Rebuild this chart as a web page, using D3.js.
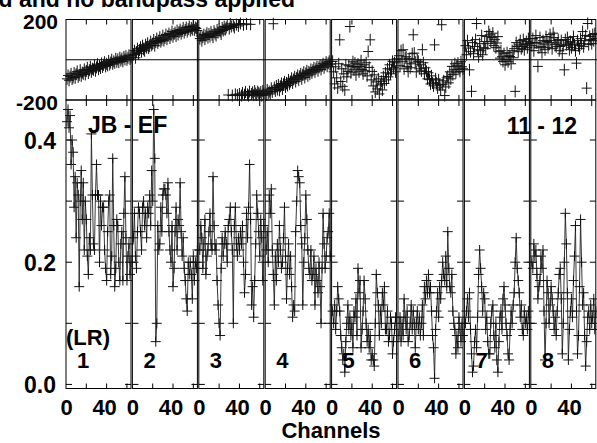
<!DOCTYPE html>
<html><head><meta charset="utf-8">
<script src="https://cdn.jsdelivr.net/npm/d3@7/dist/d3.min.js"></script>
<style>
body{margin:0;background:#fff}
svg{display:block}
text{font-family:"Liberation Sans",Arial,Helvetica,sans-serif;font-weight:bold;fill:#000}
</style>
</head><body>
<svg id="c" width="597" height="443"></svg>
<script>
// ---------------- data ----------------
const titleText = "d and no bandpass applied";
const baselineLabel = "JB - EF";
const sourceLabel = "11 - 12";
const polLabel = "(LR)";
const xAxisTitle = "Channels";
const ifLabels = ["1","2","3","4","5","6","7","8"];
const channels = d3.range(1, 65);
const xTickValues = [0, 40];
const xTickLabels = ["0", "40"];
const xMinorTicks = [20, 40, 60];
const ampTickValues = [0, 0.1, 0.2, 0.3, 0.4];
const ampTickLabelValues = [0, 0.2, 0.4];
const ampTickLabels = ["0.0", "0.2", "0.4"];
const phaseTickValues = [200, -200];
const phaseTickLabels = ["200", "-200"];

const amp1 = [0.43,0.45,0.42,0.44,0.36,0.40,0.38,0.29,0.34,0.24,0.33,0.31,0.16,0.30,0.35,0.27,0.33,0.22,0.30,0.27,0.21,0.18,0.24,0.22,0.41,0.31,0.23,0.22,0.31,0.36,0.31,0.31,0.20,0.30,0.26,0.29,0.29,0.22,0.19,0.17,0.25,0.30,0.31,0.18,0.21,0.37,0.26,0.16,0.19,0.27,0.26,0.20,0.17,0.23,0.25,0.17,0.28,0.34,0.24,0.17,0.21,0.23,0.18,0.20];
const amp2 = [0.24,0.28,0.21,0.19,0.25,0.29,0.28,0.25,0.22,0.29,0.30,0.26,0.28,0.24,0.29,0.28,0.31,0.26,0.35,0.30,0.45,0.37,0.07,0.10,0.26,0.22,0.23,0.29,0.25,0.31,0.32,0.32,0.31,0.28,0.33,0.25,0.22,0.20,0.26,0.16,0.19,0.25,0.29,0.22,0.27,0.26,0.33,0.25,0.21,0.24,0.19,0.17,0.14,0.12,0.20,0.18,0.20,0.18,0.14,0.21,0.17,0.20,0.19,0.22];
const amp3 = [0.22,0.26,0.24,0.19,0.23,0.27,0.18,0.21,0.22,0.25,0.28,0.23,0.22,0.34,0.26,0.22,0.23,0.17,0.13,0.10,0.08,0.19,0.24,0.21,0.23,0.25,0.23,0.20,0.26,0.27,0.29,0.25,0.22,0.10,0.26,0.29,0.23,0.21,0.24,0.22,0.25,0.23,0.26,0.20,0.15,0.18,0.28,0.24,0.29,0.36,0.27,0.13,0.16,0.11,0.17,0.23,0.31,0.28,0.25,0.21,0.27,0.24,0.17,0.26];
const amp4 = [0.22,0.25,0.20,0.31,0.28,0.32,0.22,0.18,0.13,0.21,0.17,0.23,0.20,0.26,0.22,0.19,0.20,0.24,0.29,0.21,0.14,0.19,0.23,0.18,0.21,0.16,0.11,0.13,0.12,0.25,0.30,0.35,0.34,0.33,0.26,0.23,0.13,0.20,0.24,0.31,0.27,0.22,0.19,0.18,0.22,0.17,0.18,0.21,0.13,0.19,0.17,0.15,0.20,0.16,0.10,0.19,0.28,0.23,0.19,0.21,0.24,0.25,0.28,0.21];
const amp5 = [0.12,0.10,0.13,0.09,0.12,0.16,0.14,0.12,0.08,0.06,0.04,0.05,0.02,0.07,0.10,0.13,0.09,0.11,0.08,0.10,0.06,0.12,0.11,0.14,0.08,0.19,0.15,0.17,0.06,0.09,0.12,0.17,0.14,0.10,0.07,0.09,0.06,0.08,0.04,0.05,0.04,0.03,0.10,0.18,0.15,0.13,0.08,0.12,0.10,0.15,0.13,0.16,0.09,0.09,0.12,0.07,0.08,0.11,0.10,0.05,0.07,0.09,0.11,0.08];
const amp6 = [0.08,0.11,0.07,0.10,0.08,0.14,0.11,0.09,0.12,0.07,0.08,0.10,0.13,0.09,0.12,0.10,0.06,0.10,0.12,0.09,0.11,0.08,0.10,0.13,0.08,0.16,0.14,0.17,0.15,0.18,0.15,0.16,0.12,0.08,0.06,0.01,0.09,0.12,0.15,0.11,0.16,0.14,0.17,0.20,0.18,0.17,0.21,0.16,0.25,0.19,0.16,0.15,0.18,0.12,0.10,0.09,0.05,0.08,0.06,0.11,0.09,0.07,0.10,0.08];
const amp7 = [0.10,0.12,0.14,0.11,0.15,0.09,0.05,0.02,0.03,0.07,0.09,0.06,0.11,0.18,0.22,0.19,0.16,0.12,0.15,0.14,0.09,0.11,0.07,0.05,0.05,0.10,0.12,0.13,0.08,0.06,0.10,0.04,0.02,0.07,0.11,0.12,0.09,0.14,0.16,0.13,0.10,0.08,0.05,0.04,0.09,0.12,0.10,0.13,0.15,0.20,0.24,0.19,0.17,0.15,0.11,0.13,0.09,0.08,0.12,0.10,0.11,0.09,0.12,0.10];
const amp8 = [0.20,0.19,0.23,0.21,0.22,0.18,0.14,0.16,0.17,0.21,0.19,0.22,0.12,0.04,0.10,0.17,0.15,0.10,0.13,0.16,0.14,0.12,0.09,0.11,0.08,0.12,0.15,0.18,0.19,0.14,0.05,0.10,0.20,0.28,0.23,0.15,0.04,0.09,0.12,0.14,0.11,0.17,0.21,0.26,0.12,0.05,0.08,0.16,0.27,0.20,0.13,0.15,0.08,0.03,0.07,0.11,0.12,0.09,0.13,0.10,0.11,0.14,0.09,0.12];

const ph1 = [-95,-78,-102,-84,-70,-96,-88,-66,-90,-72,-58,-85,-76,-52,-80,-64,-70,-48,-73,-56,-40,-66,-52,-35,-60,-45,-50,-28,-55,-38,-22,-47,-30,-41,-18,-36,-25,-12,-33,-20,-28,-6,-24,-14,0,-20,-8,-15,5,-10,2,-12,10,-4,6,-8,14,2,18,0,10,22,4,12];
const ph2 = [25,45,10,38,55,30,48,62,40,70,52,45,75,60,82,58,68,90,72,80,98,70,88,105,84,95,112,90,100,120,95,108,125,102,118,130,108,122,140,115,128,135,118,145,126,138,150,130,142,158,135,148,160,140,152,165,145,158,150,168,148,160,155,145];
const ph3 = [105,118,95,112,125,102,120,132,110,128,115,138,124,112,142,130,120,148,135,152,140,128,158,145,165,150,160,172,-175,155,178,165,-178,170,160,-172,175,-176,168,-170,180,-178,-165,174,-174,-160,178,-172,-178,-158,176,-170,-162,-176,-155,-168,-175,-158,-165,-172,-160,-178,-155,-168];
const ph4 = [-175,-150,-165,-158,-170,-142,-160,179,-138,-155,-130,-148,-125,-152,-132,-118,-145,-122,-110,-135,-115,-128,-100,-120,-108,-92,-115,-98,-85,-108,-90,-78,-100,-82,-70,-95,-75,-62,-88,-68,-55,-80,-60,-72,-48,-65,-52,-40,-60,-45,-35,-55,-38,-28,-48,-30,-20,-40,-25,-12,-32,-18,-8,-22];
const ph5 = [-8,-60,-120,-35,-90,-140,-20,99,-108,-45,-132,-70,-150,-25,-85,-58,-30,165,-65,-33,-10,-50,-17,-75,-40,-22,-60,-33,-5,-48,-70,-25,-55,-15,-80,41,-38,99,-100,-58,-130,-75,-160,-110,-145,-95,-170,-125,-107,-150,-84,-118,-65,-100,-45,-85,-25,-70,-50,-8,-40,-15,-60,5];
const ph6 = [20,-30,45,-10,50,-45,8,15,-33,-58,5,-40,-20,30,124,33,-12,-60,0,-8,-45,-25,-55,50,-15,-70,-40,-58,-95,-65,-99,-120,-80,-115,-130,74,-95,-116,-140,-100,-125,-150,174,-124,-105,-178,-135,-90,-83,-115,-60,-95,-33,-74,-50,-20,-65,-30,-17,-48,-58,-10,-35,-45];
const ph7 = [70,25,95,58,-50,40,-157,85,30,66,100,180,50,15,80,45,120,25,60,90,55,116,80,140,124,90,110,132,70,100,60,83,115,40,8,45,15,-8,30,-25,0,35,-10,20,16,-20,45,10,55,-157,85,66,40,74,95,55,66,100,50,78,90,60,105,80];
const ph8 = [70,105,45,85,120,83,-33,60,110,65,35,95,78,50,115,91,60,85,125,95,55,132,110,75,65,83,100,45,66,95,30,70,-50,100,75,110,83,50,90,60,83,115,75,45,-17,95,70,55,105,80,140,65,95,120,-141,180,75,116,100,80,125,95,130,105];

const amps = [amp1, amp2, amp3, amp4, amp5, amp6, amp7, amp8];
const phases = [ph1, ph2, ph3, ph4, ph5, ph6, ph7, ph8];

// ---------------- drawing ----------------
const W = 597, H = 443;
const svg = d3.select("#c");
const left = 66, pitch = 66.4, pw = 65;
const topY = 19.5, midY = 100, botY = 388.5;
const yPh = d3.scaleLinear().domain([-200, 200]).range([midY, topY]);
const yAmp = d3.scaleLinear().domain([-0.0067, 0.4655]).range([botY, midY]);
const ink = "#000";

function crossPath(cx, cy, hw, hh) {
  return `M${cx - hw},${cy}H${cx + hw}M${cx},${cy - hh}V${cy + hh}`;
}

// zero phase line across whole width
svg.append("line")
  .attr("x1", left).attr("x2", W)
  .attr("y1", yPh(0)).attr("y2", yPh(0))
  .attr("stroke", ink).attr("stroke-width", 1);

ifLabels.forEach((lab, k) => {
  const x0 = left + pitch * k;
  const x = d3.scaleLinear().domain([0, 64]).range([x0, x0 + pw]);
  const g = svg.append("g");

  // frames
  [[topY, midY], [midY, botY]].forEach(([a, b]) => {
    g.append("rect").attr("x", x0).attr("y", a)
      .attr("width", pw).attr("height", b - a)
      .attr("fill", "none").attr("stroke", ink).attr("stroke-width", 1);
  });

  // x ticks (inward) on both panels
  xMinorTicks.forEach(c => {
    const xx = x(c);
    g.append("path").attr("d",
      `M${xx},${topY}V${topY + 5}M${xx},${midY}V${midY - 5}M${xx},${midY}V${midY + 6}M${xx},${botY}V${botY - 5}`)
      .attr("stroke", ink).attr("stroke-width", 1);
  });
  // amplitude ticks on left/right edges
  ampTickValues.forEach(v => {
    const yy = yAmp(v);
    g.append("path").attr("d", `M${x0},${yy}H${x0 + 6}M${x0 + pw},${yy}H${x0 + pw - 6}`)
      .attr("stroke", ink).attr("stroke-width", 1);
  });

  // x tick labels
  xTickValues.forEach((c, i) => {
    g.append("text").attr("x", x(c) + (c === 0 ? 0.5 : -2)).attr("y", 415)
      .attr("text-anchor", "middle").attr("font-size", 22)
      .text(xTickLabels[i]);
  });

  // amplitude line
  const line = d3.line().x((d, i) => x(channels[i])).y(d => yAmp(d));
  g.append("path").datum(amps[k]).attr("d", line)
    .attr("fill", "none").attr("stroke", "#222").attr("stroke-width", 0.9);

  // amplitude crosses
  g.append("path")
    .attr("d", amps[k].map((v, i) => crossPath(x(channels[i]), yAmp(v), 5, 5)).join(""))
    .attr("stroke", "#111").attr("stroke-width", 1).attr("fill", "none");

  // phase crosses
  g.append("path")
    .attr("d", phases[k].map((v, i) => crossPath(x(channels[i]), yPh(v), 5, 6)).join(""))
    .attr("stroke", "#111").attr("stroke-width", 1).attr("fill", "none");

  // IF number
  g.append("text").attr("x", x0 + 11).attr("y", 368).attr("font-size", 22).text(lab);
});

// y labels
phaseTickValues.forEach((v, i) => {
  svg.append("text").attr("x", 58).attr("y", yPh(v) + 9.5)
    .attr("text-anchor", "end").attr("font-size", 21).text(phaseTickLabels[i]);
});
ampTickLabelValues.forEach((v, i) => {
  svg.append("text").attr("x", 56).attr("y", yAmp(v) + 9)
    .attr("text-anchor", "end").attr("font-size", 23).text(ampTickLabels[i]);
});

// texts
svg.append("text").attr("x", 295).attr("y", 7).attr("text-anchor", "end")
  .attr("font-size", 23).text(titleText);
svg.append("text").attr("x", 88).attr("y", 133).attr("font-size", 23).text(baselineLabel);
svg.append("text").attr("x", 577).attr("y", 134).attr("text-anchor", "end")
  .attr("font-size", 23).text(sourceLabel);
svg.append("text").attr("x", 66).attr("y", 345).attr("font-size", 22).text(polLabel);
svg.append("text").attr("x", 331).attr("y", 438).attr("text-anchor", "middle")
  .attr("font-size", 22).text(xAxisTitle);
</script>
</body></html>
